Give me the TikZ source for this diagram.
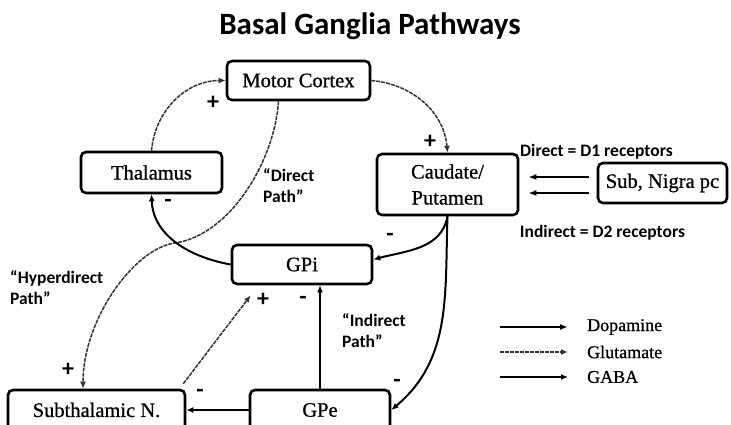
\documentclass[tikz,border=0pt]{standalone}
\usepackage{fontspec}
\setmainfont[FakeBold=0.8]{Liberation Serif}
\newfontfamily\labfont{Carlito}
\usetikzlibrary{arrows.meta}

\begin{document}
\begin{tikzpicture}[x=1pt,y=1pt,
    box/.style={draw,line width=2.6pt,rounded corners=5pt,align=center,inner sep=0pt,
      font=\fontsize{20.5}{26}\selectfont},
    gaba/.style={line width=2pt,-{Latex[length=7pt,width=6pt]}},
    glu/.style={line width=1.5pt,black!80,dash pattern=on 4pt off 1pt,-{Latex[length=7pt,width=6pt]}},
    dopa/.style={line width=1.7pt,-{Latex[length=8pt,width=6pt]}},
    sign/.style={inner sep=0pt,font=\labfont\bfseries\fontsize{24}{24}\selectfont},
    lab/.style={inner sep=0pt,align=left,font=\labfont\bfseries\fontsize{17.5}{21}\selectfont},
    key/.style={inner sep=0pt,anchor=west,font=\fontsize{18}{20}\selectfont}]

  \useasboundingbox (0,0) rectangle (731,425);

  %% title
  \node[font=\labfont\bfseries\fontsize{31}{33}\selectfont] (title) at (370,399) {Basal Ganglia Pathways};

  %% boxes
  \node[box,minimum width=143pt,minimum height=39pt] (mc) at (298.5,344.5) {Motor Cortex};
  \node[box,minimum width=141pt,minimum height=41pt] (thal) at (151.5,252.5) {Thalamus};
  \node[box,minimum width=141pt,minimum height=61pt] (caud) at (447.5,240.5) {Caudate/\\Putamen};
  \node[box,minimum width=129pt,minimum height=40pt] (snc) at (662.5,242) {Sub, Nigra pc};
  \node[box,minimum width=140pt,minimum height=39pt] (gpi) at (302,160.5) {GPi};
  \node[box,minimum width=177pt,minimum height=40pt] (stn) at (96.5,15) {Subthalamic N.};
  \node[box,minimum width=140pt,minimum height=40pt] (gpe) at (320,15) {GPe};

  %% glutamate
  \draw[glu] (thal.north) to[out=85,in=180] (mc.west);
  \draw[glu] (mc.east) to[out=-5,in=95] (caud.north);
  \coordinate (hx) at (175,182);
  \draw[glu] ([xshift=-20pt]mc.south) .. controls +(-4,-60) and +(55,8) .. (hx)
    .. controls +(-40,-5) and +(0,70) .. ([xshift=-13.5pt]stn.north);
  \draw[glu] ([shift={(-3pt,5pt)}]stn.north east) -- ([shift={(20pt,-10pt)}]gpi.south west);

  %% gaba
  \draw[gaba] (gpi.west) to[out=170,in=-88] (thal.south);
  \draw[gaba] (caud.south) to[out=-100,in=15] ([yshift=5pt]gpi.east);
  \draw[gaba] (caud.south) to[out=-92,in=40] (gpe.east);
  \draw[gaba] (gpe.north) -- (gpe.north |- gpi.south);
  \draw[gaba] (gpe.west) -- (stn.east);

  %% dopamine
  \draw[dopa] ([shift={(-8pt,6pt)}]snc.west) -- ([shift={(9pt,7.5pt)}]caud.east);
  \draw[dopa] ([shift={(-8pt,-10pt)}]snc.west) -- ([shift={(9pt,-8.5pt)}]caud.east);

  %% signs
  \node[sign] (p1) at (213,322) {+};
  \node[sign] (p2) at (430,283) {+};
  \node[sign] (m1) at (168,222) {-};
  \node[sign] (m2) at (390,188) {-};
  \node[sign] (p3) at (263,125) {+};
  \node[sign] (m3) at (303,125) {-};
  \node[sign] (m4) at (200,32) {-};
  \node[sign] (p4) at (68,55) {+};
  \node[sign] (m5) at (397,42) {-};

  %% path labels
  \node[lab,anchor=west] (dp) at (263,239) {“Direct\\Path”};
  \node[lab,anchor=west] (hp) at (10,137.5) {“Hyperdirect\\Path”};
  \node[lab,anchor=west] (ip) at (342,94) {“Indirect\\Path”};
  \node[lab] (d1) at (596.5,273) {Direct = D1 receptors};
  \node[lab] (d2) at (602.5,192) {Indirect = D2 receptors};

  %% legend
  \node[key] (kd) at (587,98) {Dopamine};
  \node[key] (kg) at (587,73) {Glutamate};
  \node[key] (ka) at (587,48) {GABA};
  \coordinate (k1) at (500,98);
  \coordinate (k2) at (500,73);
  \coordinate (k3) at (500,48);
  \draw[dopa] (k1) -- ([xshift=-19pt]kd.west);
  \draw[glu] (k2) -- ([xshift=-19pt]kg.west);
  \draw[gaba] (k3) -- ([xshift=-19pt]ka.west);

\end{tikzpicture}
\end{document}
